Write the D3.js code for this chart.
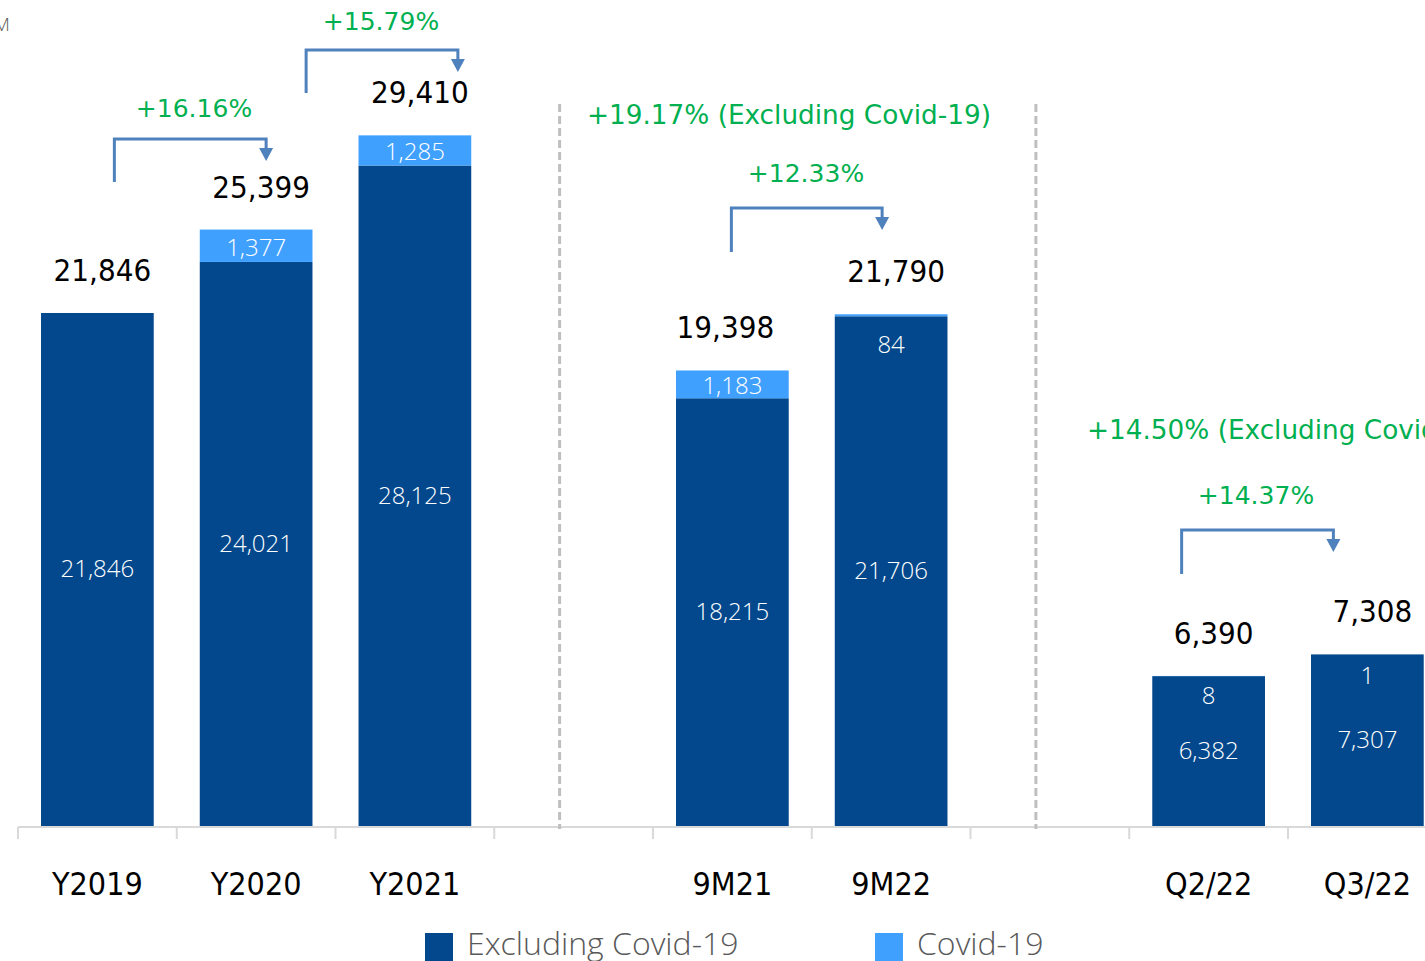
<!DOCTYPE html>
<html lang="en">
<head>
    <meta charset="UTF-8">
    <title>Revenue chart</title>
    <script src="https://cdnjs.cloudflare.com/ajax/libs/d3/7.8.5/d3.min.js"></script>
    <style>
        body { margin: 0; background: #fff; }
        svg { display: block; }
    </style>
</head>
<body>
    <div id="draw-here"></div>

    <script>
        // data (gap slots have no values)
        var categories = ["Y2019", "Y2020", "Y2021", "gap1", "9M21", "9M22", "gap2", "Q2/22", "Q3/22"];
        var excluding = [21846, 24021, 28125, null, 18215, 21706, null, 6382, 7307];
        var covid = [0, 1377, 1285, null, 1183, 84, null, 8, 1];
        var totals = [21846, 25399, 29410, null, 19398, 21790, null, 6390, 7308];

        var growthLabels = ["+16.16%", "+15.79%", "+12.33%", "+14.37%"];
        var growthFrom = ["Y2019", "Y2020", "9M21", "Q2/22"];
        var growthTo = ["Y2020", "Y2021", "9M22", "Q3/22"];
        var periodNotes = ["+19.17% (Excluding Covid-19)", "+14.50% (Excluding Covid-19)"];

        var w = 1425;
        var h = 961;
        var baseY = 826;

        var darkBlue = "#03488c";
        var lightBlue = "#3fa0fe";
        var green = "#00b050";
        var arrowBlue = "#4f81bd";

        var svg = d3.select("#draw-here")
            .append("svg")
            .attr("width", w)
            .attr("height", h);

        // 9 slots, each ~158.75px wide, starting at 18
        var x = d3.scaleBand()
            .domain(categories)
            .range([18, 18 + 9 * 158.75])
            .paddingInner(0.29)
            .paddingOuter(0.145);

        var y = d3.scaleLinear()
            .domain([0, 30000])
            .range([baseY, baseY - 30000 * 0.023483]);

        var idx = d3.range(categories.length).filter(function (i) { return totals[i] !== null; });
        var cx = function (i) { return x(categories[i]) + x.bandwidth() / 2; };

        // axis line + slot ticks
        svg.append("line")
            .attr("x1", 18).attr("x2", w)
            .attr("y1", baseY + 1).attr("y2", baseY + 1)
            .attr("stroke", "#d9d9d9").attr("stroke-width", 2);

        svg.selectAll(".tick")
            .data(d3.range(categories.length + 1))
            .enter()
            .append("line")
            .attr("x1", function (d) { return 18 + d * x.step(); })
            .attr("x2", function (d) { return 18 + d * x.step(); })
            .attr("y1", baseY + 1)
            .attr("y2", baseY + 13)
            .attr("stroke", "#d9d9d9")
            .attr("stroke-width", 2);

        // dashed separators in the gap slots
        ["gap1", "gap2"].forEach(function (g) {
            var sx = x(g) + x.bandwidth() / 2 - 14;
            svg.append("line")
                .attr("x1", sx).attr("x2", sx)
                .attr("y1", 104).attr("y2", baseY + 3)
                .attr("stroke", "#bfbfbf")
                .attr("stroke-width", 3)
                .attr("stroke-dasharray", "8,4");
        });

        // stacked bars
        svg.selectAll(".exc")
            .data(idx)
            .enter()
            .append("rect")
            .attr("x", function (i) { return x(categories[i]); })
            .attr("width", x.bandwidth())
            .attr("y", function (i) { return y(excluding[i]); })
            .attr("height", function (i) { return baseY - y(excluding[i]); })
            .attr("fill", darkBlue);

        svg.selectAll(".cov")
            .data(idx)
            .enter()
            .append("rect")
            .attr("x", function (i) { return x(categories[i]); })
            .attr("width", x.bandwidth())
            .attr("y", function (i) { return y(excluding[i] + covid[i]); })
            .attr("height", function (i) { return y(excluding[i]) - y(excluding[i] + covid[i]); })
            .attr("fill", lightBlue);

        var fmt = d3.format(",");
        var innerFont = "'Open Sans', sans-serif";
        var condFont = "'DejaVu Sans Condensed', 'DejaVu Sans', sans-serif";

        // labels inside the dark segment
        svg.selectAll(".excLabel")
            .data(idx)
            .enter()
            .append("text")
            .text(function (i) { return fmt(excluding[i]); })
            .attr("x", function (i) { return cx(i); })
            .attr("y", function (i) { return (baseY + y(excluding[i])) / 2 + 8; })
            .attr("text-anchor", "middle")
            .attr("font-family", innerFont)
            .attr("font-weight", 300)
            .attr("font-size", "24px")
            .attr("fill", "#ffffff");

        // covid labels: centred in segment, or dropped below the top when the segment is thin
        var thinDrop = { "9M22": 39, "Q2/22": 28, "Q3/22": 30 };
        svg.selectAll(".covLabel")
            .data(idx.filter(function (i) { return covid[i] > 0; }))
            .enter()
            .append("text")
            .text(function (i) { return fmt(covid[i]); })
            .attr("x", function (i) { return cx(i); })
            .attr("y", function (i) {
                var top = y(excluding[i] + covid[i]);
                var bot = y(excluding[i]);
                if (bot - top < 15) return top + (thinDrop[categories[i]] || 28);
                return (top + bot) / 2 + 10;
            })
            .attr("text-anchor", "middle")
            .attr("font-family", innerFont)
            .attr("font-weight", 300)
            .attr("font-size", "24px")
            .attr("fill", "#ffffff");

        // totals above bars
        var totalShift = { "9M21": -7 };
        svg.selectAll(".total")
            .data(idx)
            .enter()
            .append("text")
            .text(function (i) { return fmt(totals[i]); })
            .attr("x", function (i) {
                var s = totalShift[categories[i]];
                return cx(i) + (s === undefined ? 5 : s);
            })
            .attr("y", function (i) { return y(totals[i]) - 32; })
            .attr("text-anchor", "middle")
            .attr("font-family", condFont)
            .attr("font-size", "31px")
            .attr("fill", "#000000");

        // category labels
        svg.selectAll(".cat")
            .data(idx)
            .enter()
            .append("text")
            .text(function (i) { return categories[i]; })
            .attr("x", function (i) { return cx(i); })
            .attr("y", 895)
            .attr("text-anchor", "middle")
            .attr("font-family", condFont)
            .attr("font-size", "32px")
            .attr("fill", "#000000");

        // growth brackets: hand placed relative to the bar centres
        var bracketLayout = [
            { dx1: 17, dx2: 10, top: 139, bottom: 182, labelX: 194, labelY: 117 },
            { dx1: 50, dx2: 43, top: 50, bottom: 93, labelX: 381, labelY: 30 },
            { dx1: -1, dx2: -9, top: 208, bottom: 252, labelX: 806, labelY: 182 },
            { dx1: -27, dx2: -34, top: 530, bottom: 574, labelX: 1256, labelY: 504 }
        ];

        growthLabels.forEach(function (lab, k) {
            var L = bracketLayout[k];
            var x1 = cx(categories.indexOf(growthFrom[k])) + L.dx1;
            var x2 = cx(categories.indexOf(growthTo[k])) + L.dx2;
            svg.append("path")
                .attr("d", "M" + x1 + "," + L.bottom + "V" + L.top + "H" + x2 + "V" + (L.top + 10))
                .attr("fill", "none")
                .attr("stroke", arrowBlue)
                .attr("stroke-width", 3);
            svg.append("path")
                .attr("d", "M" + (x2 - 7) + "," + (L.top + 9) + "L" + (x2 + 7) + "," + (L.top + 9) + "L" + x2 + "," + (L.top + 22) + "Z")
                .attr("fill", arrowBlue);
            svg.append("text")
                .text(lab)
                .attr("x", L.labelX)
                .attr("y", L.labelY)
                .attr("text-anchor", "middle")
                .attr("font-family", "'DejaVu Sans', sans-serif")
                .attr("font-size", "25px")
                .attr("fill", green);
        });

        // period notes (second one runs off the right edge like the original)
        svg.append("text")
            .text(periodNotes[0])
            .attr("x", 789).attr("y", 124)
            .attr("text-anchor", "middle")
            .attr("font-family", "'DejaVu Sans', sans-serif")
            .attr("font-size", "26.3px")
            .attr("fill", green);
        svg.append("text")
            .text(periodNotes[1])
            .attr("x", 1087).attr("y", 439)
            .attr("font-family", "'DejaVu Sans', sans-serif")
            .attr("font-size", "26.3px")
            .attr("fill", green);

        // unit label cut at top left
        svg.append("text")
            .text("M")
            .attr("x", 10).attr("y", 31)
            .attr("text-anchor", "end")
            .attr("font-family", "'Open Sans', sans-serif")
            .attr("font-weight", 300)
            .attr("font-size", "19px")
            .attr("fill", "#595959");

        // legend
        var legend = [
            { name: "Excluding Covid-19", color: darkBlue, x: 425 },
            { name: "Covid-19", color: lightBlue, x: 875 }
        ];
        legend.forEach(function (d) {
            svg.append("rect")
                .attr("x", d.x).attr("y", 933)
                .attr("width", 28).attr("height", 28)
                .attr("fill", d.color);
            svg.append("text")
                .text(d.name)
                .attr("x", d.x + 42).attr("y", 955)
                .attr("font-family", "'Open Sans', sans-serif")
                .attr("font-weight", 300)
                .attr("font-size", "32px")
                .attr("fill", "#595959");
        });
    </script>
</body>
</html>
